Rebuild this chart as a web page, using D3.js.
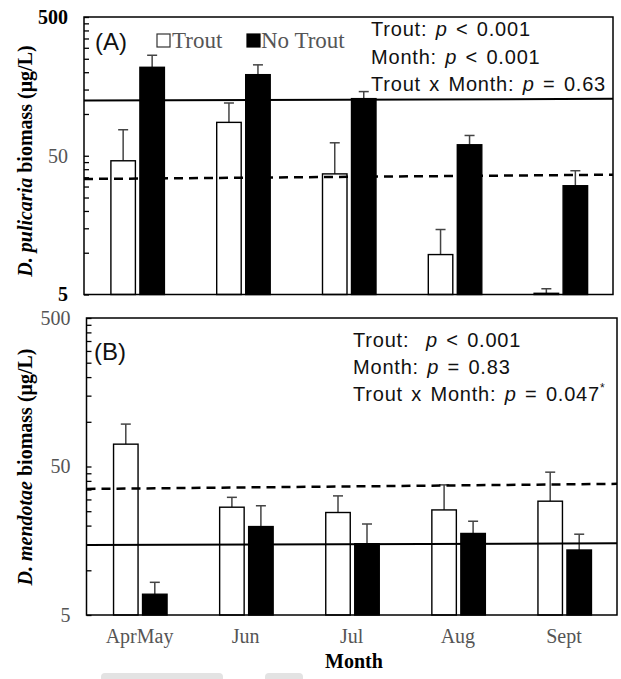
<!DOCTYPE html>
<html>
<head>
<meta charset="utf-8">
<script src="https://cdn.jsdelivr.net/npm/d3@7"></script>
<style>
  html, body { margin: 0; padding: 0; background: #fff; }
  svg { display: block; }
  .stat { font-family: "Liberation Sans", Arial, sans-serif; font-size: 20px; fill: #111; letter-spacing: 0.8px; word-spacing: 2px; white-space: pre; }
  .tag { font-family: "Liberation Sans", Arial, sans-serif; font-size: 24px; fill: #111; }
  .serif { font-family: "Liberation Serif", "Times New Roman", serif; }
</style>
</head>
<body>
<div id="chart"></div>
<script>
// months and groups
const months = ['AprMay', 'Jun', 'Jul', 'Aug', 'Sept'];
const groups = ['Trout', 'No Trout'];

// (A) D. pulicaria biomass, µg/L : bar value and top of error bar
const pulTrout      = [46, 87, 37, 9.7, 5.1];
const pulTroutErr   = [77, 120, 62, 14.7, 5.5];
const pulNoTrout    = [217, 192, 129, 60, 30.4];
const pulNoTroutErr = [265, 226, 145, 70, 39];
const pulSolid  = [125, 128.5];   // line value at left / right edge
const pulDashed = [34, 36.5];

// (B) D. mendotae biomass, µg/L
const menTrout      = [70.7, 26.6, 24.5, 25.5, 29.2];
const menTroutErr   = [96.5, 31, 31.7, 37.6, 45.8];
const menNoTrout    = [6.9, 19.7, 15.1, 17.7, 13.7];
const menNoTroutErr = [8.3, 27.2, 20.5, 21.4, 17.5];
const menSolid  = [14.8, 15.2];
const menDashed = [35.3, 38.2];

// log axis ticks
const majorTicks = [5, 50, 500];
const minorTicks = [10, 15, 20, 25, 30, 35, 40, 45, 100, 150, 200, 250, 300, 350, 400, 450];

const statsA = [
  ['Trout: ', 'p', ' < 0.001'],
  ['Month: ', 'p', ' < 0.001'],
  ['Trout x Month: ', 'p', ' = 0.63']
];
const statsB = [
  ['Trout:  ', 'p', ' < 0.001'],
  ['Month: ', 'p', ' = 0.83'],
  ['Trout x Month: ', 'p', ' = 0.047', '*']
];

const W = 621, H = 679;
const svg = d3.select('#chart').append('svg').attr('width', W).attr('height', H);

function panel(opt) {
  const { left, right, top, bottom, trout, troutErr, noTrout, noTroutErr, solid, dashed } = opt;
  const g = svg.append('g');
  const x = d3.scaleBand().domain(months).range([left, right]);
  const xs = d3.scaleOrdinal().domain(groups).range([-26, 3]);
  const bw = 24.5;
  const y = d3.scaleLog().domain([5, 500]).range([bottom, top]);

  const rows = [];
  months.forEach((m, i) => {
    rows.push({ m, grp: 'Trout', v: trout[i], e: troutErr[i] });
    rows.push({ m, grp: 'No Trout', v: noTrout[i], e: noTroutErr[i] });
  });
  const cx = d => x(d.m) + x.bandwidth() / 2 + xs(d.grp);

  // error bars (drawn first so the bar covers the root)
  const eb = g.append('g').attr('stroke', '#444').attr('stroke-width', 1.5);
  eb.selectAll('line.v').data(rows).join('line').attr('class', 'v')
    .attr('x1', d => cx(d) + bw / 2).attr('x2', d => cx(d) + bw / 2)
    .attr('y1', d => y(d.v)).attr('y2', d => y(d.e));
  eb.selectAll('line.c').data(rows).join('line').attr('class', 'c')
    .attr('x1', d => cx(d) + bw / 2 - 5).attr('x2', d => cx(d) + bw / 2 + 5)
    .attr('y1', d => y(d.e)).attr('y2', d => y(d.e));

  g.selectAll('rect.bar').data(rows).join('rect').attr('class', 'bar')
    .attr('x', d => cx(d)).attr('width', bw)
    .attr('y', d => y(d.v)).attr('height', d => bottom - y(d.v))
    .attr('fill', d => d.grp === 'Trout' ? '#fff' : '#000')
    .attr('stroke', '#000').attr('stroke-width', 1.4);

  // reference lines
  g.append('line').attr('x1', left).attr('x2', right)
    .attr('y1', y(solid[0])).attr('y2', y(solid[1]))
    .attr('stroke', '#000').attr('stroke-width', 2);
  g.append('line').attr('x1', left).attr('x2', right)
    .attr('y1', y(dashed[0])).attr('y2', y(dashed[1]))
    .attr('stroke', '#000').attr('stroke-width', 2.5).attr('stroke-dasharray', '9,6');

  // frame
  g.append('rect').attr('x', left).attr('y', top)
    .attr('width', right - left).attr('height', bottom - top)
    .attr('fill', 'none').attr('stroke', '#000').attr('stroke-width', 1.5);

  // y ticks (inside)
  const ax = g.append('g').attr('transform', `translate(${left},0)`)
    .call(d3.axisLeft(y).tickValues(minorTicks.concat(majorTicks)).tickSize(-5).tickFormat(''));
  ax.select('.domain').remove();
  ax.selectAll('line').attr('stroke', '#000').attr('stroke-width', 1.3);

  const lab = g.append('g').attr('transform', `translate(${left},0)`)
    .call(d3.axisLeft(y).tickValues(majorTicks).tickSize(0).tickPadding(16).tickFormat(d3.format('d')));
  lab.select('.domain').remove();
  lab.selectAll('text').attr('class', 'serif').style('font-size', '20px')
    .attr('fill', d => opt.boldEnds && d !== 50 ? '#000' : '#555')
    .style('font-weight', d => opt.boldEnds && d !== 50 ? 'bold' : 'normal');

  return { g, x, y };
}

const A = panel({ left: 84, right: 613, top: 17, bottom: 294.5,
  trout: pulTrout, troutErr: pulTroutErr, noTrout: pulNoTrout, noTroutErr: pulNoTroutErr,
  solid: pulSolid, dashed: pulDashed, boldEnds: true });
const B = panel({ left: 86.5, right: 617, top: 318, bottom: 615,
  trout: menTrout, troutErr: menTroutErr, noTrout: menNoTrout, noTroutErr: menNoTroutErr,
  solid: menSolid, dashed: menDashed, boldEnds: false });

// x axis labels under panel B
const xa = svg.append('g').attr('transform', 'translate(0,615)')
  .call(d3.axisBottom(B.x).tickSize(0).tickPadding(14));
xa.select('.domain').remove();
xa.selectAll('text').attr('class', 'serif').style('font-size', '20px').attr('fill', '#555');

svg.append('text').attr('class', 'serif').attr('x', 354).attr('y', 668)
  .attr('text-anchor', 'middle').style('font-size', '20px').style('font-weight', 'bold')
  .text('Month');

// y titles
function yTitle(cy, species) {
  const t = svg.append('text').attr('class', 'serif')
    .attr('transform', `translate(32,${cy}) rotate(-90)`)
    .attr('text-anchor', 'middle').style('font-size', '20px').style('font-weight', 'bold');
  t.append('tspan').style('font-style', 'italic').text(species);
  t.append('tspan').text(' biomass (μg/L)');
}
yTitle(161, 'D. pulicaria');
yTitle(467, 'D. mendotae');

// panel tags
svg.append('text').attr('class', 'tag').attr('x', 95).attr('y', 50).text('(A)');
svg.append('text').attr('class', 'tag').attr('x', 94).attr('y', 360).text('(B)');

// legend
const leg = svg.append('g');
leg.selectAll('rect').data(groups).join('rect')
  .attr('x', (d, i) => i ? 247 : 157).attr('y', 34).attr('width', 13).attr('height', 13)
  .attr('fill', d => d === 'Trout' ? '#fff' : '#000')
  .attr('stroke', d => d === 'Trout' ? '#333' : '#000').attr('stroke-width', 1.2);
leg.selectAll('text').data(groups).join('text').attr('class', 'serif')
  .attr('x', (d, i) => i ? 261 : 172).attr('y', 48)
  .style('font-size', '23px').attr('fill', '#555').text(d => d);

// statistics text
function stats(lines, x0, y0, dy) {
  lines.forEach((ln, i) => {
    const t = svg.append('text').attr('class', 'stat').attr('x', x0).attr('y', y0 + i * dy);
    t.append('tspan').text(ln[0]);
    t.append('tspan').style('font-style', 'italic').text(ln[1]);
    t.append('tspan').text(ln[2]);
    if (ln[3]) t.append('tspan').attr('dy', -9).style('font-size', '12px').text(ln[3]);
  });
}
stats(statsA, 371, 36, 27.5);
stats(statsB, 353, 347, 27);

// faint grey marks at the bottom edge of the scan
svg.append('rect').attr('x', 101).attr('y', 673).attr('width', 122).attr('height', 10).attr('rx', 4).attr('fill', '#e3e3e3');
svg.append('rect').attr('x', 265).attr('y', 673).attr('width', 38).attr('height', 10).attr('rx', 4).attr('fill', '#e3e3e3');
</script>
</body>
</html>
